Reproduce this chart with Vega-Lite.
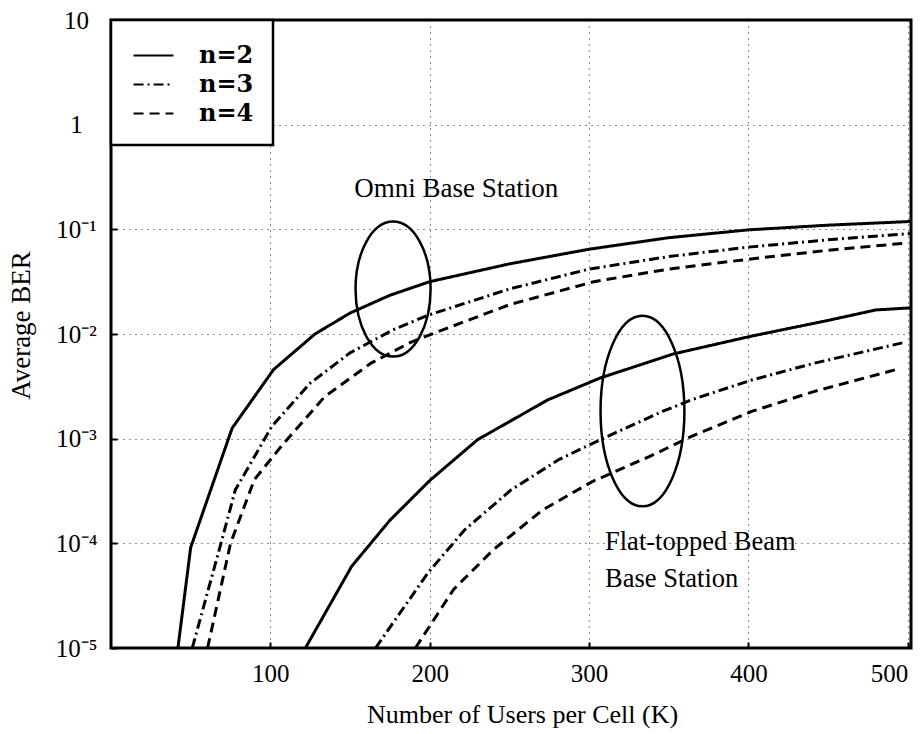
{
  "$schema": "https://vega.github.io/schema/vega-lite/v6.json",
  "width": 800,
  "height": 628,
  "autosize": {"type": "none"},
  "padding": {"left": 111, "top": 20, "right": 11, "bottom": 86},
  "background": "white",
  "config": {
    "view": {"stroke": "black", "strokeWidth": 3},
    "font": "Liberation Serif",
    "axis": {
      "domain": false,
      "grid": true,
      "gridColor": "black",
      "gridDash": [1, 5],
      "gridWidth": 1,
      "gridOpacity": 0.9,
      "ticks": true,
      "tickSize": -6,
      "tickColor": "black",
      "tickWidth": 2,
      "labelFont": "Liberation Serif",
      "labelFontSize": 25,
      "labelColor": "black",
      "titleFont": "Liberation Serif",
      "titleFontSize": 26,
      "titleFontWeight": "normal",
      "titleColor": "black"
    }
  },
  "datasets": {
    "curves": [
      {"K": 42, "BER": 1e-5, "n": "n=2", "station": "Omni"},
      {"K": 50, "BER": 9.12e-5, "n": "n=2", "station": "Omni"},
      {"K": 76, "BER": 1.259e-3, "n": "n=2", "station": "Omni"},
      {"K": 102, "BER": 4.57e-3, "n": "n=2", "station": "Omni"},
      {"K": 128, "BER": 1.0e-2, "n": "n=2", "station": "Omni"},
      {"K": 150, "BER": 1.585e-2, "n": "n=2", "station": "Omni"},
      {"K": 175, "BER": 2.344e-2, "n": "n=2", "station": "Omni"},
      {"K": 200, "BER": 3.162e-2, "n": "n=2", "station": "Omni"},
      {"K": 250, "BER": 4.677e-2, "n": "n=2", "station": "Omni"},
      {"K": 300, "BER": 6.457e-2, "n": "n=2", "station": "Omni"},
      {"K": 350, "BER": 8.318e-2, "n": "n=2", "station": "Omni"},
      {"K": 400, "BER": 9.886e-2, "n": "n=2", "station": "Omni"},
      {"K": 450, "BER": 0.1096, "n": "n=2", "station": "Omni"},
      {"K": 502, "BER": 0.1189, "n": "n=2", "station": "Omni"},

      {"K": 51, "BER": 1e-5, "n": "n=3", "station": "Omni"},
      {"K": 69, "BER": 1e-4, "n": "n=3", "station": "Omni"},
      {"K": 78, "BER": 3.236e-4, "n": "n=3", "station": "Omni"},
      {"K": 101, "BER": 1.318e-3, "n": "n=3", "station": "Omni"},
      {"K": 125, "BER": 3.388e-3, "n": "n=3", "station": "Omni"},
      {"K": 150, "BER": 6.607e-3, "n": "n=3", "station": "Omni"},
      {"K": 177, "BER": 1.096e-2, "n": "n=3", "station": "Omni"},
      {"K": 199, "BER": 1.514e-2, "n": "n=3", "station": "Omni"},
      {"K": 250, "BER": 2.692e-2, "n": "n=3", "station": "Omni"},
      {"K": 300, "BER": 4.169e-2, "n": "n=3", "station": "Omni"},
      {"K": 350, "BER": 5.495e-2, "n": "n=3", "station": "Omni"},
      {"K": 400, "BER": 6.761e-2, "n": "n=3", "station": "Omni"},
      {"K": 450, "BER": 7.943e-2, "n": "n=3", "station": "Omni"},
      {"K": 502, "BER": 9.12e-2, "n": "n=3", "station": "Omni"},

      {"K": 60.6, "BER": 1e-5, "n": "n=4", "station": "Omni"},
      {"K": 75, "BER": 1e-4, "n": "n=4", "station": "Omni"},
      {"K": 90, "BER": 4.074e-4, "n": "n=4", "station": "Omni"},
      {"K": 107, "BER": 8.511e-4, "n": "n=4", "station": "Omni"},
      {"K": 134, "BER": 2.512e-3, "n": "n=4", "station": "Omni"},
      {"K": 163, "BER": 5.248e-3, "n": "n=4", "station": "Omni"},
      {"K": 188, "BER": 8.318e-3, "n": "n=4", "station": "Omni"},
      {"K": 203, "BER": 1.023e-2, "n": "n=4", "station": "Omni"},
      {"K": 250, "BER": 1.905e-2, "n": "n=4", "station": "Omni"},
      {"K": 303, "BER": 3.162e-2, "n": "n=4", "station": "Omni"},
      {"K": 350, "BER": 4.169e-2, "n": "n=4", "station": "Omni"},
      {"K": 403, "BER": 5.248e-2, "n": "n=4", "station": "Omni"},
      {"K": 450, "BER": 6.31e-2, "n": "n=4", "station": "Omni"},
      {"K": 500, "BER": 7.413e-2, "n": "n=4", "station": "Omni"},

      {"K": 122, "BER": 1e-5, "n": "n=2", "station": "Flat"},
      {"K": 151, "BER": 6.026e-5, "n": "n=2", "station": "Flat"},
      {"K": 175, "BER": 1.66e-4, "n": "n=2", "station": "Flat"},
      {"K": 200, "BER": 3.981e-4, "n": "n=2", "station": "Flat"},
      {"K": 230, "BER": 9.772e-4, "n": "n=2", "station": "Flat"},
      {"K": 274, "BER": 2.344e-3, "n": "n=2", "station": "Flat"},
      {"K": 307, "BER": 3.802e-3, "n": "n=2", "station": "Flat"},
      {"K": 353, "BER": 6.457e-3, "n": "n=2", "station": "Flat"},
      {"K": 402, "BER": 9.55e-3, "n": "n=2", "station": "Flat"},
      {"K": 450, "BER": 1.349e-2, "n": "n=2", "station": "Flat"},
      {"K": 480, "BER": 1.698e-2, "n": "n=2", "station": "Flat"},
      {"K": 502, "BER": 1.778e-2, "n": "n=2", "station": "Flat"},

      {"K": 166, "BER": 1e-5, "n": "n=3", "station": "Flat"},
      {"K": 199, "BER": 5.248e-5, "n": "n=3", "station": "Flat"},
      {"K": 222, "BER": 1.349e-4, "n": "n=3", "station": "Flat"},
      {"K": 251, "BER": 3.236e-4, "n": "n=3", "station": "Flat"},
      {"K": 281, "BER": 6.31e-4, "n": "n=3", "station": "Flat"},
      {"K": 307, "BER": 9.772e-4, "n": "n=3", "station": "Flat"},
      {"K": 346, "BER": 1.82e-3, "n": "n=3", "station": "Flat"},
      {"K": 364, "BER": 2.344e-3, "n": "n=3", "station": "Flat"},
      {"K": 402, "BER": 3.631e-3, "n": "n=3", "station": "Flat"},
      {"K": 441, "BER": 5.248e-3, "n": "n=3", "station": "Flat"},
      {"K": 498, "BER": 8.318e-3, "n": "n=3", "station": "Flat"},

      {"K": 191, "BER": 1e-5, "n": "n=4", "station": "Flat"},
      {"K": 215, "BER": 3.631e-5, "n": "n=4", "station": "Flat"},
      {"K": 240, "BER": 8.71e-5, "n": "n=4", "station": "Flat"},
      {"K": 271, "BER": 2.089e-4, "n": "n=4", "station": "Flat"},
      {"K": 302, "BER": 3.89e-4, "n": "n=4", "station": "Flat"},
      {"K": 338, "BER": 6.761e-4, "n": "n=4", "station": "Flat"},
      {"K": 364, "BER": 1.047e-3, "n": "n=4", "station": "Flat"},
      {"K": 402, "BER": 1.82e-3, "n": "n=4", "station": "Flat"},
      {"K": 441, "BER": 2.818e-3, "n": "n=4", "station": "Flat"},
      {"K": 495, "BER": 4.677e-3, "n": "n=4", "station": "Flat"}
    ],
    "ellipses": [
      {"K": 177, "BER": 2.685e-2, "group": "Omni"},
      {"K": 333.5, "BER": 1.837e-3, "group": "Flat"}
    ],
    "notes": [
      {"K": 216.7, "BER": 0.2427, "label": "Omni Base Station", "align": "center"},
      {"K": 310, "BER": 1.035e-4, "label": "Flat-topped Beam", "align": "left"},
      {"K": 310, "BER": 4.53e-5, "label": "Base Station", "align": "left"}
    ]
  },
  "layer": [
    {
      "data": {"name": "curves"},
      "mark": {"type": "line", "clip": true, "strokeWidth": 3, "color": "black", "strokeCap": "butt"},
      "encoding": {
        "x": {
          "field": "K", "type": "quantitative",
          "scale": {"domain": [0, 502], "nice": false, "zero": false},
          "axis": {
            "values": [100, 200, 300, 400, 500],
            "title": "Number of Users per Cell (K)",
            "labelPadding": 19,
            "labelFlush": 10,
            "titleX": 411,
            "titleY": 66,
            "titleBaseline": "middle",
            "titleAnchor": "middle",
            "titleAlign": "center"
          }
        },
        "y": {
          "field": "BER", "type": "quantitative",
          "scale": {"type": "log", "domain": [1e-5, 10], "nice": false},
          "axis": {
            "values": [1e-5, 1e-4, 1e-3, 1e-2, 1e-1, 1, 10],
            "labelExpr": "datum.value >= 9 ? '10' : datum.value >= 0.9 ? '1' : '10' + ['', '⁻¹', '⁻²', '⁻³', '⁻⁴', '⁻⁵'][round(-log(datum.value) / LN10)]",
            "labelAlign": "center",
            "labelBaseline": "middle",
            "labelPadding": 41,
            "title": "Average BER",
            "titleFontSize": 27,
            "titleX": -90,
            "titleY": 305,
            "titleAngle": -90,
            "titleBaseline": "middle",
            "titleAlign": "center"
          }
        },
        "strokeDash": {
          "field": "n", "type": "nominal",
          "scale": {"domain": ["n=2", "n=3", "n=4"], "range": [[1, 0], [10, 4, 2, 4], [10, 6]]},
          "legend": {
            "orient": "top-left",
            "offset": 0,
            "title": null,
            "symbolType": "M-1.33,0H1.33",
            "symbolSize": 900,
            "symbolOffset": 7,
            "symbolStrokeWidth": 2.2,
            "symbolStrokeColor": "black",
            "symbolFillColor": "transparent",
            "labelFont": "DejaVu Serif",
            "labelFontSize": 24,
            "labelFontWeight": "bold",
            "labelColor": "black",
            "labelOffset": 29,
            "rowPadding": 0,
            "padding": 19,
            "strokeColor": "black",
            "fillColor": "white",
            "cornerRadius": 0,
            "encode": {"legend": {"update": {"strokeWidth": {"value": 2.5}}}}
          }
        },
        "detail": {"field": "station"}
      }
    },
    {
      "data": {"name": "ellipses"},
      "transform": [{"filter": "datum.group == 'Omni'"}],
      "mark": {"type": "point", "shape": "M0,-1A0.556,1 0 1,1 0,1A0.556,1 0 1,1 0,-1Z", "size": 18225, "filled": false, "stroke": "black", "strokeWidth": 2.5, "opacity": 1},
      "encoding": {
        "x": {"field": "K", "type": "quantitative"},
        "y": {"field": "BER", "type": "quantitative"}
      }
    },
    {
      "data": {"name": "ellipses"},
      "transform": [{"filter": "datum.group == 'Flat'"}],
      "mark": {"type": "point", "shape": "M0,-1A0.44,1 0 1,1 0,1A0.44,1 0 1,1 0,-1Z", "size": 36328, "filled": false, "stroke": "black", "strokeWidth": 2.5, "opacity": 1},
      "encoding": {
        "x": {"field": "K", "type": "quantitative"},
        "y": {"field": "BER", "type": "quantitative"}
      }
    },
    {
      "data": {"name": "notes"},
      "transform": [{"filter": "datum.align == 'center'"}],
      "mark": {"type": "text", "font": "Liberation Serif", "fontSize": 27, "color": "black", "align": "center", "baseline": "middle"},
      "encoding": {
        "x": {"field": "K", "type": "quantitative"},
        "y": {"field": "BER", "type": "quantitative"},
        "text": {"field": "label"}
      }
    },
    {
      "data": {"name": "notes"},
      "transform": [{"filter": "datum.align == 'left'"}],
      "mark": {"type": "text", "font": "Liberation Serif", "fontSize": 26.5, "color": "black", "align": "left", "baseline": "middle"},
      "encoding": {
        "x": {"field": "K", "type": "quantitative"},
        "y": {"field": "BER", "type": "quantitative"},
        "text": {"field": "label"}
      }
    }
  ]
}
